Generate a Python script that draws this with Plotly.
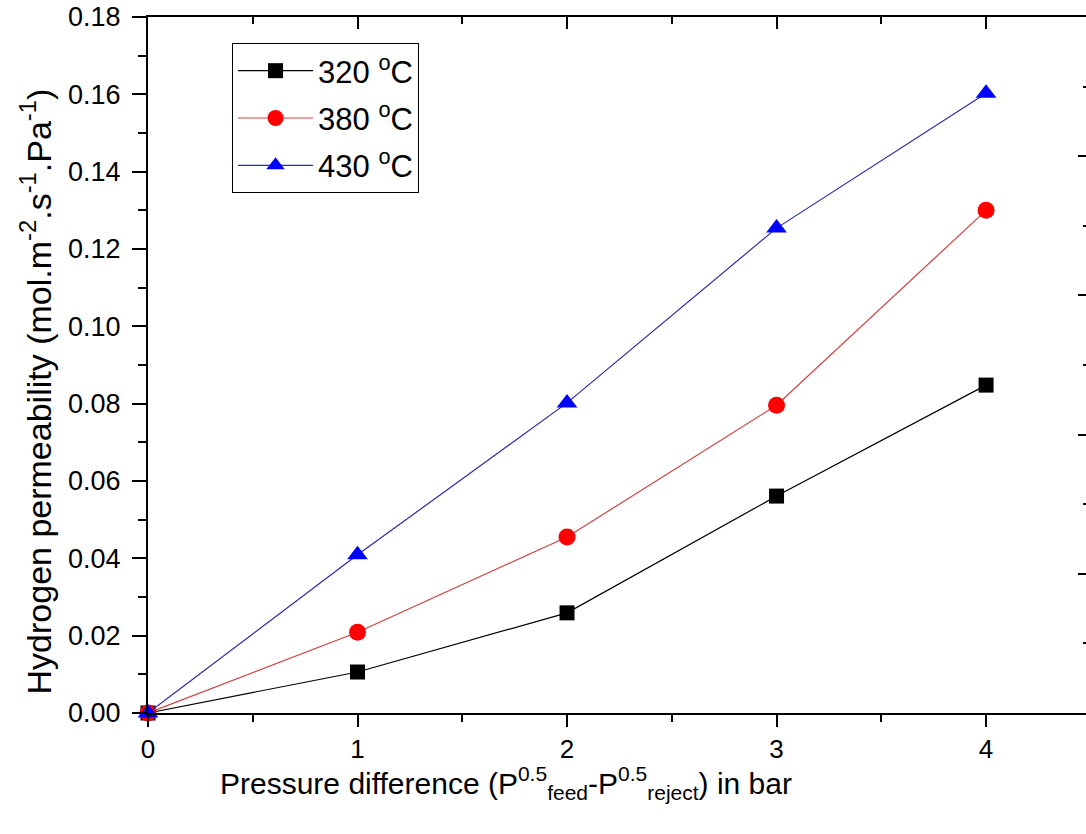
import plotly.graph_objects as go

x_vals = [0, 1, 2, 3, 4]
perm_320 = [0.0, 0.0106, 0.0259, 0.0561, 0.0848]
perm_380 = [0.0, 0.0209, 0.0455, 0.0796, 0.1300]
perm_430 = [0.0, 0.0409, 0.0802, 0.1254, 0.1603]
labels = ["320 <sup>o</sup>C", "380 <sup>o</sup>C", "430 <sup>o</sup>C"]
x_ticks = [0, 1, 2, 3, 4]
x_minor = [0.5, 1.5, 2.5, 3.5]
y_ticks = [0, 0.02, 0.04, 0.06, 0.08, 0.10, 0.12, 0.14, 0.16, 0.18]
x_title = "Pressure difference (P<sup>0.5</sup><sub>feed</sub>-P<sup>0.5</sup><sub>reject</sub>) in bar"
y_title = "Hydrogen permeability (mol.m<sup>-2</sup>.s<sup>-1</sup>.Pa<sup>-1</sup>)"

FONT = "Liberation Sans, Arial, sans-serif"

fig = go.Figure()
series = [
    (perm_320, labels[0], "black", "black", "square", 15),
    (perm_380, labels[1], "#d04040", "red", "circle", 17),
    (perm_430, labels[2], "#2a2aa8", "blue", "triangle-up", 18),
]
for i, (ys, name, lcol, mcol, sym, sz) in enumerate(series):
    fig.add_trace(go.Scatter(
        x=x_vals, y=ys, name=name, mode="lines+markers",
        legendgroup=f"g{i}",
        line=dict(color=lcol, width=1.2),
        marker=dict(symbol=sym, size=sz, color=mcol, line=dict(width=0)),
        cliponaxis=False,
    ))

# helper traces so the top and right frame axes are drawn
fig.add_trace(go.Scatter(x=[], y=[], xaxis="x2", yaxis="y", showlegend=False, hoverinfo="skip"))
fig.add_trace(go.Scatter(x=[], y=[], xaxis="x", yaxis="y2", showlegend=False, hoverinfo="skip"))

fig.update_layout(
    width=1086, height=834,
    margin=dict(l=148, r=0, t=17, b=121),
    paper_bgcolor="white", plot_bgcolor="white",
    font=dict(family=FONT, color="black"),
    showlegend=True,
    legend=dict(
        x=0.0896, y=0.9626, xanchor="left", yanchor="top",
        bordercolor="black", borderwidth=1, bgcolor="white",
        font=dict(size=31, family=FONT),
        itemwidth=75, tracegroupgap=4, traceorder="grouped",
    ),
    xaxis=dict(
        range=[0, 4.477], tickvals=x_ticks,
        ticks="outside", ticklen=12, tickwidth=2, tickcolor="black",
        minor=dict(tickvals=x_minor, ticks="outside", ticklen=7, tickwidth=2, tickcolor="black"),
        showline=True, linecolor="black", linewidth=2,
        showgrid=False, zeroline=False,
        tickfont=dict(size=26, family=FONT),
    ),
    xaxis2=dict(
        overlaying="x", matches="x", side="top",
        range=[0, 4.477], tickvals=x_ticks,
        ticks="inside", ticklen=12, tickwidth=2, tickcolor="black",
        minor=dict(tickvals=x_minor, ticks="inside", ticklen=7, tickwidth=2, tickcolor="black"),
        showline=True, linecolor="black", linewidth=2,
        showticklabels=False, showgrid=False, zeroline=False,
    ),
    yaxis=dict(
        range=[0, 0.18], tickvals=y_ticks,
        tickformat=".2f",
        ticks="outside", ticklen=14, tickwidth=2, tickcolor="black",
        minor=dict(dtick=0.01, ticks="outside", ticklen=8, tickwidth=2, tickcolor="black"),
        showline=True, linecolor="black", linewidth=2,
        showgrid=False, zeroline=False,
        ticklabelstandoff=6,
        tickfont=dict(size=27, family=FONT),
    ),
    yaxis2=dict(
        overlaying="y", side="right", range=[0, 5], tickvals=[0, 1, 2, 3, 4, 5],
        ticks="inside", ticklen=8, tickwidth=2, tickcolor="black",
        minor=dict(tickvals=[0.5, 1.5, 2.5, 3.5, 4.5], ticks="inside", ticklen=3, tickwidth=2, tickcolor="black"),
        showline=False, showticklabels=False, showgrid=False, zeroline=False,
    ),
    annotations=[
        dict(text=x_title, xref="paper", yref="paper", x=(218 - 148) / 938, y=-0.068,
             xanchor="left", yanchor="top", showarrow=False,
             font=dict(size=30, family=FONT)),
        dict(text=y_title, xref="paper", yref="paper", x=-0.12, y=0.4626,
             xanchor="center", yanchor="middle", textangle=-90, showarrow=False,
             font=dict(size=34, family=FONT)),
    ],
)

fig.write_html("out.html", config={"displayModeBar": False},
               post_script="document.body.style.margin='0px';")
